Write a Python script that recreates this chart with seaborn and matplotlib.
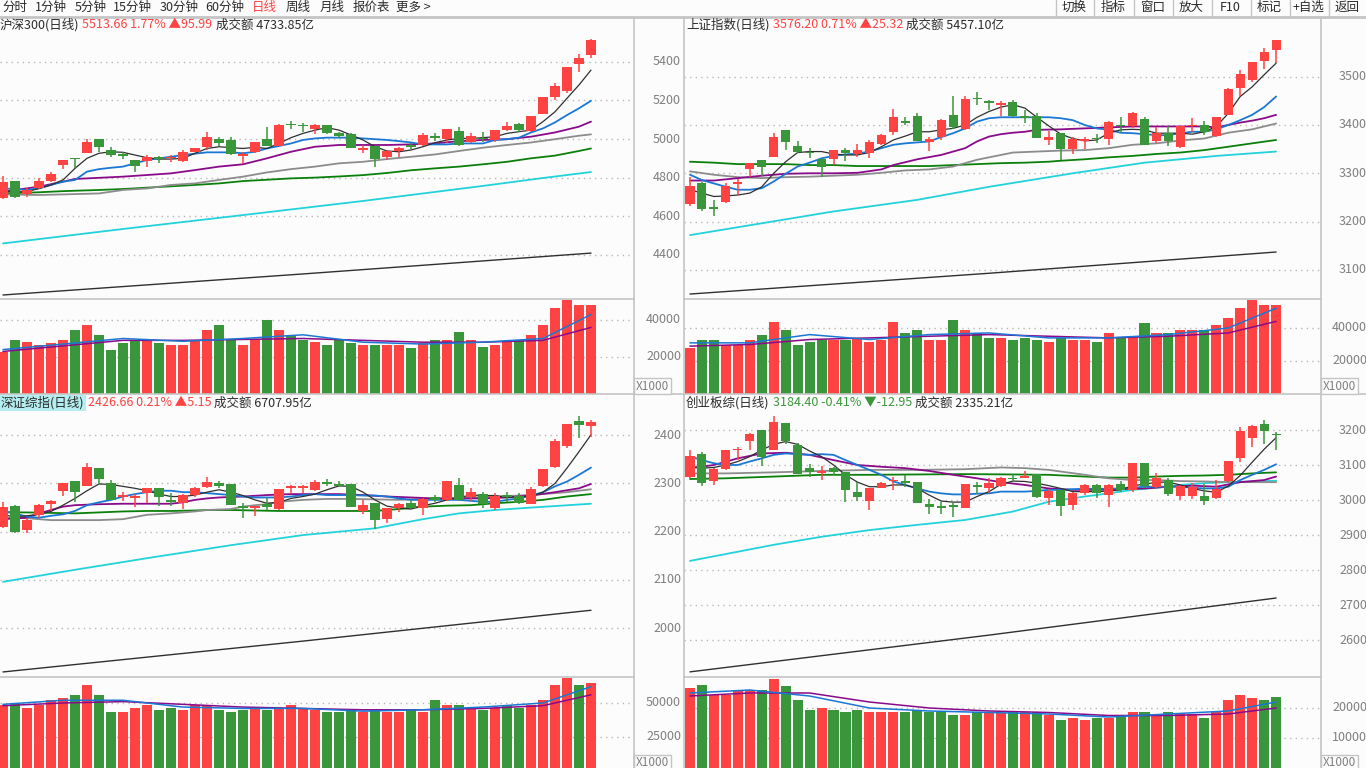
import numpy as np
import matplotlib
matplotlib.use("Agg")
import matplotlib.pyplot as plt
from matplotlib.lines import Line2D
import seaborn as sns

# ===================== DATA =====================
# ---- 沪深300 (top-left) ----
hs_open = [4692,4784,4715,4744,4784,4865,4900,4926,4999,4943,4922,4891,4886,4903,4900,4888,4934,4960,4999,4995,4914,4934,4999,4965,5076,5069,5050,5072,5033,5024,4943,4964,4908,4938,4965,4969,5017,4999,5041,4982,5003,4995,5046,5076,5041,5129,5219,5250,5388,5435]
hs_high = [4808,4784,4744,4796,4831,4891,4900,4999,4999,4960,4934,4891,4917,4914,4917,4943,4955,5038,5012,5012,4931,4982,5064,5077,5093,5081,5077,5072,5038,5029,4969,4964,4943,4960,4977,5029,5029,5050,5060,5029,5034,5046,5090,5081,5119,5217,5288,5374,5438,5518]
hs_low = [4687,4692,4701,4741,4779,4844,4851,4926,4934,4908,4896,4831,4857,4874,4882,4882,4931,4943,4965,4917,4870,4926,4965,4965,5050,5038,5024,5024,5003,4951,4926,4857,4891,4908,4948,4965,4989,4977,4965,4977,4986,4982,5041,5034,5038,5129,5202,5240,5349,5421]
hs_close = [4779,4701,4736,4784,4818,4891,4894,4986,4960,4917,4914,4862,4908,4896,4905,4934,4951,5008,4981,4920,4922,4982,4965,5072,5071,5065,5072,5029,5017,4951,4948,4896,4938,4951,4960,5020,5003,5050,4969,5015,4999,5046,5067,5046,5119,5217,5274,5371,5418,5514]
hs_vol = [22700,29190,28100,26480,27570,29190,34590,37290,31890,23780,27570,29190,28650,27570,26480,26480,29190,34590,37290,29190,26480,29190,40000,34590,31890,29190,28100,26480,29190,27570,26480,26480,26480,26480,24860,27570,29190,29190,33510,29190,25400,26480,28100,29190,31890,37290,46480,50810,48100,48100]
hs_ma5 = [4727,4727,4727,4744,4762,4788,4848,4900,4926,4934,4931,4917,4903,4896,4896,4900,4926,4951,4960,4955,4951,4957,4951,4977,5007,5029,5046,5059,5046,5021,4995,4960,4938,4934,4943,4960,4981,4995,5003,5003,5007,5012,5029,5038,5046,5090,5141,5211,5280,5357]
hs_ma10 = [4744,4741,4736,4744,4762,4779,4788,4831,4844,4851,4857,4874,4891,4900,4908,4917,4924,4931,4931,4931,4926,4934,4951,4964,4977,4995,5003,5007,5007,5007,5003,4999,4995,4989,4982,4972,4972,4972,4977,4977,4977,4995,4999,5007,5034,5055,5086,5124,5159,5198]
hs_ma20_i = [0,3,5,6,7,10,14,16,18,20,22,24,26,28,30,32,34,36,38,40,42,44,46,48,49]
hs_ma20 = [4727,4753,4779,4793,4796,4805,4822,4839,4857,4869,4900,4934,4960,4969,4969,4969,4972,4977,4989,4995,4999,5012,5034,5064,5090]
hs_ma30_i = [0,3,5,8,10,12,14,16,18,20,22,24,26,28,30,32,34,36,38,40,42,44,46,48,49]
hs_ma30 = [4713,4710,4713,4718,4736,4744,4762,4770,4788,4805,4827,4844,4857,4874,4882,4896,4908,4920,4938,4955,4969,4982,4999,5017,5024]
hs_ma60 = [4718,4724,4730,4736,4741,4748,4755,4762,4770,4782,4789,4796,4800,4806,4813,4824,4838,4848,4857,4869,4882,4900,4914,4938,4951]
hs_ma120_i = [0,10,20,30,40,45,49]
hs_ma120 = [4459,4534,4606,4679,4757,4798,4829]
hs_ma250_i = [0,25,49]
hs_ma250 = [4192,4301,4409]
hs_vma_i = [0,5,10,15,20,25,30,35,40,45,49]
hs_vma5 = [24000,27000,30000,28500,30000,32000,28000,27000,28000,30000,43000]
hs_vma10 = [23000,26000,29000,29000,29500,30000,29000,28000,28000,29000,36000]

# ---- 上证指数 (top-right) ----
sh_open = [3237,3279,3230,3241,3277,3308,3328,3333,3390,3357,3345,3329,3329,3348,3340,3341,3361,3386,3408,3419,3364,3376,3421,3392,3456,3450,3442,3448,3419,3419,3368,3383,3350,3367,3374,3370,3401,3397,3413,3366,3384,3355,3397,3400,3378,3421,3477,3493,3533,3555]
sh_high = [3293,3283,3245,3279,3288,3322,3328,3384,3390,3367,3352,3329,3348,3352,3361,3369,3381,3433,3416,3424,3375,3412,3459,3461,3469,3452,3450,3452,3431,3424,3388,3384,3375,3375,3381,3409,3416,3426,3416,3395,3397,3397,3414,3408,3416,3476,3514,3530,3559,3577]
sh_low = [3233,3222,3212,3239,3255,3293,3295,3333,3348,3341,3332,3293,3317,3326,3333,3332,3359,3379,3399,3366,3347,3369,3391,3390,3442,3431,3419,3416,3405,3374,3359,3328,3340,3350,3362,3359,3383,3393,3359,3362,3357,3352,3386,3379,3376,3421,3459,3488,3516,3529]
sh_close = [3274,3226,3227,3274,3281,3321,3314,3376,3364,3345,3341,3312,3348,3343,3348,3365,3379,3417,3405,3366,3371,3410,3395,3454,3453,3445,3446,3419,3414,3374,3376,3350,3371,3369,3370,3406,3397,3424,3359,3383,3366,3397,3400,3386,3416,3475,3506,3530,3551,3576]
sh_vol = [27880,32720,32720,29690,29690,32720,35750,43630,38780,29690,31510,32720,32720,32720,33940,31510,32720,43630,36970,38780,32720,32720,44840,38780,36970,33940,33940,32720,33940,32720,31510,33940,32720,32720,31510,36970,33940,33940,43030,36970,36970,38780,38780,38780,41810,46060,52120,56960,53930,53930]
sh_ma5 = [3266,3259,3252,3253,3255,3259,3272,3300,3324,3343,3345,3345,3340,3338,3338,3343,3355,3369,3377,3386,3386,3390,3393,3400,3416,3428,3437,3442,3435,3416,3398,3381,3372,3367,3369,3383,3390,3391,3390,3383,3383,3383,3381,3386,3397,3424,3459,3479,3504,3528]
sh_ma10 = [3297,3286,3279,3272,3266,3266,3269,3283,3299,3314,3322,3331,3336,3339,3341,3345,3352,3359,3362,3364,3366,3375,3383,3393,3407,3414,3416,3416,3416,3416,3416,3414,3410,3400,3393,3390,3384,3383,3381,3379,3379,3383,3386,3386,3391,3400,3410,3421,3437,3459]
sh_ma20_i = [0,2,4,6,8,10,12,14,16,17,19,21,23,24,25,26,27,28,29,31,33,35,37,39,41,43,44,45,46,47,48,49]
sh_ma20 = [3285,3285,3290,3295,3299,3300,3300,3301,3308,3317,3329,3338,3352,3366,3376,3381,3384,3386,3390,3391,3393,3395,3397,3397,3397,3397,3395,3400,3405,3409,3414,3421]
sh_ma30_i = [0,2,4,6,8,10,12,14,16,18,20,22,23,24,25,26,27,29,31,33,35,37,39,41,43,45,47,49]
sh_ma30 = [3304,3297,3292,3290,3292,3293,3295,3297,3301,3306,3308,3314,3321,3328,3333,3338,3343,3345,3347,3348,3352,3359,3362,3368,3372,3384,3391,3403]
sh_ma60_i = [0,2,4,6,8,10,12,14,16,18,20,22,24,26,28,30,31,33,35,37,39,41,43,45,47,49]
sh_ma60 = [3324,3322,3319,3319,3319,3317,3317,3315,3315,3315,3315,3317,3319,3321,3322,3324,3326,3329,3333,3336,3340,3343,3348,3355,3362,3369]
sh_ma120_i = [0,12,19,25,32,38,44,49]
sh_ma120 = [3172,3221,3245,3272,3300,3322,3336,3345]
sh_ma250_i = [0,25,49]
sh_ma250 = [3050,3093,3137]
sh_vma_i = [0,5,10,15,20,25,30,35,40,45,49]
sh_vma5 = [31000,31000,36000,33000,36000,37000,34000,34000,36000,40000,52000]
sh_vma10 = [29000,30000,33000,34000,35000,36000,35000,34000,35000,37000,44000]

# ---- 深证综指 (bottom-left) ----
sz_open = [2210.5,2253,2203.5,2235,2258,2284.5,2305,2295.5,2331.5,2300,2273,2270,2280,2290,2266,2259,2276,2293.5,2300,2299,2253,2250,2257.5,2247,2291,2291,2286.5,2303,2299,2299,2243,2259,2226,2248.5,2260,2248.5,2271,2266,2297,2271,2278,2250,2276,2274,2257.5,2295.5,2335,2378.5,2430,2420]
sz_high = [2262,2255,2228,2257.5,2265,2300,2305,2343,2331.5,2307,2282,2278,2291,2290,2280,2278,2293.5,2314,2305,2299,2259,2253,2269,2289,2297,2297,2307,2309,2305,2299,2266,2260,2248.5,2259,2266,2270.6,2276,2305,2312,2291,2282,2280,2283,2280,2293.5,2330,2392,2423.5,2440,2432]
sz_low = [2207,2197,2198,2229,2243,2275,2262,2295.5,2298,2266,2264,2252,2259,2253,2253,2247,2273,2291,2290,2255,2228,2233,2245,2245,2277.6,2280,2284.5,2295,2293.5,2252,2236,2206,2217,2241.6,2247,2235,2262,2264,2264,2264,2250,2245,2262,2257,2257.5,2293.5,2331.5,2373,2395,2397]
sz_close = [2252,2200,2224,2255,2264,2300,2283,2334,2309,2266,2274,2271,2290,2271,2262,2276,2290,2303,2295.5,2255,2248.5,2253,2252,2289,2292,2292,2302.5,2298,2295.5,2252,2255,2224,2248.5,2257.5,2248.5,2268,2266,2305,2266,2282,2257.5,2275,2273,2259,2289,2330,2388,2423.5,2421.5,2426.66]
sz_vol = [48510,49980,46300,48510,52190,53660,55860,63210,55860,43370,43370,46300,48510,44840,46300,44840,48510,48510,44840,43370,44840,46300,44840,46300,48510,46300,44840,43370,43370,44840,43370,44840,43370,43370,44840,43370,52190,48510,48510,46300,44840,46300,48510,46300,48510,52190,63210,68360,63210,64680]
sz_ma5 = [2235,2231,2233,2236,2242,2255,2269,2285,2299,2298,2294,2290,2285,2278,2273,2273,2276,2282,2287,2282,2275,2266,2259,2261,2269,2273,2278,2287,2295,2294,2282,2266,2253,2249,2247,2254,2259,2266,2271,2276,2275,2275,2271,2273,2273,2282,2300,2332,2366,2401]
sz_ma10 = [2243,2238,2231,2229,2233,2236,2243,2255,2261,2266,2273,2278,2282,2285,2285,2282,2282,2280,2278,2276,2273,2271,2271,2271,2273,2276,2278,2276,2276,2276,2275,2275,2273,2269,2266,2266,2266,2266,2266,2264,2262,2262,2266,2269,2275,2282,2294,2304,2318,2333]
sz_ma20_i = [0,2,3,4,5,6,8,10,12,14,15,16,17,18,20,22,24,26,28,30,32,34,36,38,40,42,44,46,48,49]
sz_ma20 = [2226,2229,2238,2245,2252,2255,2257,2258,2258,2258,2261,2266,2269,2271,2273,2276,2278,2278,2278,2276,2273,2271,2269,2269,2269,2271,2275,2282,2290,2299]
sz_ma30_i = [0,2,4,6,8,10,12,14,16,17,19,20,21,22,23,25,27,29,31,33,35,37,39,41,43,45,47,49]
sz_ma30 = [2229,2228,2224,2224,2224,2226,2235,2238,2242,2245,2247,2252,2255,2257,2262,2266,2268,2268,2267,2266,2268,2269,2271,2273,2275,2278,2282,2288]
sz_ma60_i = [0,2,4,6,8,10,12,14,16,17,19,21,23,25,27,29,31,33,35,37,39,41,43,45,47,49]
sz_ma60 = [2240,2240,2239,2238,2240,2242,2243,2243,2244,2245,2245,2244,2243,2243,2243,2243,2243,2247,2252,2254,2255,2259,2262,2266,2273,2278]
sz_ma120_i = [0,6,12,19,25,31,35,38,41,44,49]
sz_ma120 = [2096,2121,2145,2172,2193,2207,2226,2238,2245,2250,2258]
sz_ma250_i = [0,25,49]
sz_ma250 = [1909,1973,2037]
sz_vma_i = [0,5,10,15,20,25,30,35,40,45,49]
sz_vma5 = [49000,52000,52000,47000,46000,46000,44000,45000,47000,50000,62000]
sz_vma10 = [48000,50000,51000,49000,47000,46000,45000,45000,46000,48000,56000]

# ---- 创业板综 (bottom-right) ----
cy_open = [3067,3130.5,3054,3089,3142,3169,3200,3143,3219,3157,3091,3078,3092.5,3081,3022,2997,3035,3054,3054,3051,2989,2980,2986,2978,3043,3035,3041,3062,3062,3074,3005,3029,2986,3019,3043,3014,3045,3029,3105,3038,3057,3011.5,3012.5,3012.5,3005,3054,3119,3176,3217,3189]
cy_high = [3143,3138,3092.5,3143,3152,3190.5,3200,3240,3219,3162,3102,3097,3095,3081,3051,3033,3051,3067,3071.5,3051,3003,2993.5,2993.5,3045,3051,3064,3067,3073,3083,3074,3031.5,3029,3022,3045,3045,3045,3054,3105,3105,3076,3062,3043,3048,3045,3057,3111.5,3210,3214,3229,3195]
cy_low = [3064,3041,3043,3086,3114,3143,3098,3143,3159,3073,3067,3057,3071.5,2993.5,2997,2972,3033,3029,3038,2992.5,2959,2959,2952.5,2978,3016,3019,3038,3052.5,3062,3007,2986,2955,2972,3014,3007,2981,3024,3024,3033,3033,3012.5,3000,3003,2986,3003,3050.6,3110,3152,3159,3143]
cy_close = [3126,3048,3089,3143,3145,3188,3124,3224,3169,3073,3081,3083,3079,3029,3010,3033,3048,3057,3048,2992.5,2979,2978,2981,3045,3038,3050,3064,3059,3070,3010,3026,2984,3019,3043,3019,3043,3029,3105,3041,3062,3017,3040,3038,2997,3031.5,3111.5,3197,3212,3198,3184.4]
cy_vol = [26670,27670,24330,24330,26000,26000,26000,29670,27330,22670,19330,20000,19330,18670,19330,18670,18670,18670,18670,19330,18670,18670,17670,17670,18670,18330,18330,18670,18670,18670,17670,16000,16670,16000,16670,16670,17670,18670,18670,18000,18670,18000,18000,16670,18670,22670,24330,23330,22670,23670]
cy_ma5 = [3095,3091,3093,3100,3110,3124,3143,3159,3167,3159,3140,3124,3100,3072,3051,3038,3038,3043,3043,3033,3014,2997,2994,2994,3010,3024,3045,3054,3053,3048,3041,3033,3024,3024,3024,3026,3029,3041,3045,3051,3051,3043,3033,3026,3022,3040,3070,3108,3145,3178]
cy_ma10 = [3124,3114,3105,3100,3100,3110,3119,3129,3133,3131,3129,3131,3129,3114,3100,3086,3072,3053,3043,3033,3024,3019,3016,3016,3018,3019,3024,3024,3024,3026,3029,3029,3031,3032,3032,3032,3033,3035,3038,3038,3038,3038,3035,3033,3033,3038,3057,3072,3086,3102]
cy_ma20_i = [0,2,4,6,8,10,12,14,16,18,20,22,24,26,28,30,32,34,36,38,40,42,44,46,48,49]
cy_ma20 = [3091,3100,3119,3133,3135,3129,3114,3100,3095,3091,3083,3072,3062,3051,3043,3033,3029,3029,3031,3033,3038,3041,3038,3051,3057,3067]
cy_ma30_i = [0,3,7,11,15,19,23,26,28,30,33,35,37,39,41,43,45,47,49]
cy_ma30 = [3076,3076,3079,3083,3086,3086,3088,3093,3091,3086,3072,3062,3057,3057,3054,3053,3051,3051,3051]
cy_ma60_i = [0,3,7,11,15,19,23,27,30,33,35,37,39,41,43,45,47,49]
cy_ma60 = [3060,3062,3067,3072,3072,3073,3074,3073,3072,3067,3064,3064,3067,3069,3070,3072,3076,3079]
cy_ma120_i = [0,7,11,15,19,23,27,30,33,35,37,39,41,43,45,47,49]
cy_ma120 = [2826,2872,2895,2914,2929,2943,2967,2995,3010,3019,3029,3035,3043,3048,3051,3053,3055]
cy_ma250_i = [0,25,49]
cy_ma250 = [2509,2614,2720]
cy_vma_i = [0,5,10,15,20,25,30,35,40,45,49]
cy_vma5 = [25000,26000,24000,20000,19000,18500,18000,17000,18000,19000,22000]
cy_vma10 = [24000,25000,25000,22000,20000,19000,18500,17500,17500,18000,20000]

# tick labels
hs_ticks = [5400, 5200, 5000, 4800, 4600, 4400]
sh_ticks = [3500, 3400, 3300, 3200, 3100]
sz_ticks = [2400, 2300, 2200, 2100, 2000]
cy_ticks = [3200, 3100, 3000, 2900, 2800, 2700, 2600]
hs_vticks = [40000, 20000]
sh_vticks = [40000, 20000]
sz_vticks = [50000, 25000]
cy_vticks = [20000, 10000]

toolbar_left = ["分时", "1分钟", "5分钟", "15分钟", "30分钟", "60分钟", "日线", "周线", "月线", "报价表", "更多 >"]
toolbar_right = ["切换", "指标", "窗口", "放大", "F10", "标记", "+自选", "返回"]

# ===================== STYLE =====================
sns.set_theme(style="white")
plt.rcParams['font.family'] = ['Noto Sans CJK SC', 'DejaVu Sans']
plt.rcParams['axes.unicode_minus'] = False

BG = "#fcfcfc"
RED = "#ff4242"
GREEN = "#3a963a"
TXT = "#2a2a2a"
GRAYTXT = "#7f7f7f"
SEP = "#c4c4c4"
GRID = "#b8b8b8"
MA_COLORS = {"ma5": "#303030", "ma10": "#1a78d4", "ma20": "#8a0a8a",
             "ma30": "#8c8c8c", "ma60": "#0a800a", "ma120": "#22d2dc", "ma250": "#303030"}

W, H = 1366, 768
fig = plt.figure(figsize=(W / 100, H / 100), dpi=100, facecolor=BG)
renderer = fig.canvas.get_renderer()


def fx(x):
    return x / W


def fy(y):
    return 1 - y / H


def add_ax(x0, y0, x1, y1):
    ax = fig.add_axes([fx(x0), fy(y1), (x1 - x0) / W, (y1 - y0) / H])
    ax.set_axis_off()
    return ax


def hline(x0, x1, y, color=SEP, lw=1.2, ls='-'):
    fig.add_artist(Line2D([fx(x0), fx(x1)], [fy(y), fy(y)], color=color, lw=lw, ls=ls))


def vline(x, y0, y1, color=SEP, lw=1.2):
    fig.add_artist(Line2D([fx(x), fx(x)], [fy(y0), fy(y1)], color=color, lw=lw))


def seq_text(x, y, parts, fs=9):
    for s, col, bg in parts:
        kw = {}
        if bg:
            kw['bbox'] = dict(facecolor=bg, edgecolor='none', pad=1.0)
        t = fig.text(fx(x), fy(y), s, color=col, fontsize=fs, ha='left', va='center', **kw)
        x += t.get_window_extent(renderer).width + 3


def draw_panel(px0, px1, py0, py_split, py1, o, h, l, c, vol, mas, vma, ylim, vylim,
               xlim, ticks, vticks, lab_x, header):
    o, h, l, c, vol = map(np.asarray, (o, h, l, c, vol))
    x = np.arange(len(o))
    cols = np.where(c >= o, RED, GREEN)

    ax = add_ax(px0, py0, px1, py_split)
    ax.set_xlim(*xlim)
    ax.set_ylim(*ylim)
    for t in ticks:
        ax.axhline(t, color=GRID, lw=1, ls=(0, (1, 3)), zorder=0)
    for key, (idx, vals, lw) in mas.items():
        sns.lineplot(x=idx, y=vals, ax=ax, color=MA_COLORS[key], linewidth=lw, zorder=2)
    ax.vlines(x, l, h, colors=cols, linewidth=1.1, zorder=3)
    tiny = (ylim[1] - ylim[0]) / (py_split - py0) * 1.6
    ax.bar(x, np.maximum(np.abs(c - o), tiny), bottom=np.minimum(o, c), width=0.76,
           color=cols, linewidth=0, zorder=4)
    ax.set_xlim(*xlim)
    ax.set_ylim(*ylim)

    vax = add_ax(px0, py_split + 1, px1, py1)
    vax.set_xlim(*xlim)
    vax.set_ylim(*vylim)
    for t in vticks:
        vax.axhline(t, color=GRID, lw=1, ls=(0, (1, 3)), zorder=0)
    vax.bar(x, vol, width=0.84, color=cols, linewidth=0, zorder=2)
    vidx, v5, v10 = vma
    sns.lineplot(x=vidx, y=v10, ax=vax, color=MA_COLORS["ma20"], linewidth=1.1, zorder=3)
    sns.lineplot(x=vidx, y=v5, ax=vax, color=MA_COLORS["ma10"], linewidth=1.1, zorder=3)
    vax.set_xlim(*xlim)
    vax.set_ylim(*vylim)

    def y_of(v, lim, a0, a1):
        return a1 - (v - lim[0]) / (lim[1] - lim[0]) * (a1 - a0)
    for t in ticks:
        fig.text(fx(lab_x), fy(y_of(t, ylim, py0, py_split)), str(t), color=GRAYTXT,
                 fontsize=9, ha='right', va='center')
    for t in vticks:
        fig.text(fx(lab_x), fy(y_of(t, vylim, py_split + 1, py1)), str(t), color=GRAYTXT,
                 fontsize=9, ha='right', va='center')
    seq_text(px0 + header[0], py0 + 8, header[1])


MAS = lambda m5, m10, i20, m20, i30, m30, i60, m60, i120, m120, i250, m250: {
    "ma250": (i250, m250, 1.0), "ma120": (i120, m120, 1.3), "ma60": (i60, m60, 1.3),
    "ma30": (i30, m30, 1.3), "ma20": (i20, m20, 1.3),
    "ma10": (list(range(len(m10))), m10, 1.3), "ma5": (list(range(len(m5))), m5, 0.9)}

XL_L = (-0.25, 52.5)
XL_R = (-0.5, 52.67)

draw_panel(0, 633, 17, 298, 394, hs_open, hs_high, hs_low, hs_close, hs_vol,
           MAS(hs_ma5, hs_ma10, hs_ma20_i, hs_ma20, hs_ma30_i, hs_ma30, hs_ma30_i, hs_ma60,
               hs_ma120_i, hs_ma120, hs_ma250_i, hs_ma250),
           (hs_vma_i, hs_vma5, hs_vma10), (4176.4, 5632.0), (0, 51350), XL_L,
           hs_ticks, hs_vticks, 681,
           (0, [("沪深300(日线)", TXT, None), ("5513.66 1.77% ▲95.99", RED, None),
                ("成交额 4733.85亿", TXT, None)]))
draw_panel(684, 1320, 17, 298, 394, sh_open, sh_high, sh_low, sh_close, sh_vol,
           MAS(sh_ma5, sh_ma10, sh_ma20_i, sh_ma20, sh_ma30_i, sh_ma30, sh_ma60_i, sh_ma60,
               sh_ma120_i, sh_ma120, sh_ma250_i, sh_ma250),
           (sh_vma_i, sh_vma5, sh_vma10), (3041.8, 3623.6), (0, 57570), XL_R,
           sh_ticks, sh_vticks, 1367,
           (2, [("上证指数(日线)", TXT, None), ("3576.20 0.71% ▲25.32", RED, None),
                ("成交额 5457.10亿", TXT, None)]))
draw_panel(0, 633, 395, 676, 768, sz_open, sz_high, sz_low, sz_close, sz_vol,
           MAS(sz_ma5, sz_ma10, sz_ma20_i, sz_ma20, sz_ma30_i, sz_ma30, sz_ma60_i, sz_ma60,
               sz_ma120_i, sz_ma120, sz_ma250_i, sz_ma250),
           (sz_vma_i, sz_vma5, sz_vma10), (1900.6, 2483.6), (2206, 69100), XL_L,
           sz_ticks, sz_vticks, 681,
           (1, [("深证综指(日线)", TXT, "#b4eef0"), ("2426.66 0.21% ▲5.15", RED, None),
                ("成交额 6707.95亿", TXT, None)]))
draw_panel(684, 1320, 395, 676, 768, cy_open, cy_high, cy_low, cy_close, cy_vol,
           MAS(cy_ma5, cy_ma10, cy_ma20_i, cy_ma20, cy_ma30_i, cy_ma30, cy_ma60_i, cy_ma60,
               cy_ma120_i, cy_ma120, cy_ma250_i, cy_ma250),
           (cy_vma_i, cy_vma5, cy_vma10), (2497.2, 3300.0), (0, 30333), XL_R,
           cy_ticks, cy_vticks, 1367,
           (2, [("创业板综(日线)", TXT, None), ("3184.40 -0.41% ▼-12.95", GREEN, None),
                ("成交额 2335.21亿", TXT, None)]))

# ===================== FRAME / SEPARATORS =====================
hline(0, W, 16.5, lw=2.0)
for xv in (633.5, 683.5, 1320.5):
    vline(xv, 17, H)
for yv in (298.5, 676.5):
    hline(0, 633.5, yv)
    hline(683.5, 1320.5, yv)
hline(0, W, 393.5)

for bx, by in ((636, 386), (1323, 386), (636, 763), (1323, 763)):
    fig.text(fx(bx), fy(by), "X1000", color=GRAYTXT, fontsize=8.5, ha='left', va='center',
             bbox=dict(facecolor=BG, edgecolor=SEP, pad=1.2, linewidth=1))

# ===================== TOOLBAR =====================
tb_x = [2, 35, 75, 113, 160, 205, 252, 286, 320, 353, 396]
for s, xx in zip(toolbar_left, tb_x):
    fig.text(fx(xx), fy(7.5), s, color=(RED if s == "日线" else TXT), fontsize=9,
             ha='left', va='center')
seps = [1055, 1093, 1133, 1172, 1211, 1250, 1289, 1328, 1366]
for i, s in enumerate(toolbar_right):
    vline(seps[i] + 0.5, 0, 16, lw=1.0)
    fig.text(fx((seps[i] + seps[i + 1]) / 2), fy(7.5), s, color=TXT, fontsize=9,
             ha='center', va='center')

fig.savefig("out.png", dpi=100, facecolor=BG)
